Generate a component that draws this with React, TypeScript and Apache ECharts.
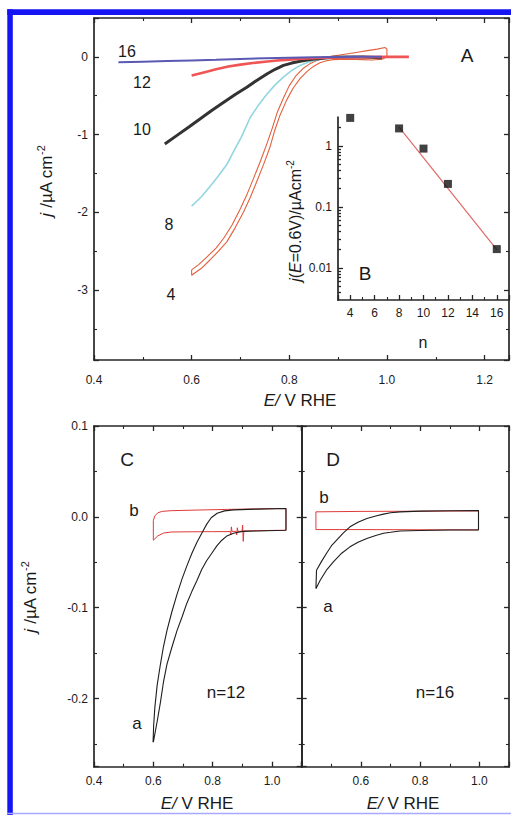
import React, { useEffect, useRef } from 'react';
import * as echarts from 'echarts';

// ---------- Panel A: j vs E for different n ----------
const curve4: number[][] = [
  [0.6, -2.74], [0.615, -2.67], [0.632, -2.57], [0.65, -2.46], [0.666, -2.33], [0.683, -2.16], [0.7, -1.95],
  [0.714, -1.76], [0.727, -1.56], [0.741, -1.34], [0.754, -1.12], [0.765, -0.92], [0.775, -0.72], [0.788, -0.53],
  [0.8, -0.37], [0.814, -0.24], [0.828, -0.15], [0.842, -0.09], [0.855, -0.05], [0.868, -0.02], [0.88, 0.0],
  [0.9, 0.02], [0.92, 0.04], [0.94, 0.06], [0.96, 0.08], [0.98, 0.1], [0.996, 0.12], [1.0, 0.1], [1.0, 0.0],
  [0.99, -0.03], [0.97, -0.04], [0.95, -0.035], [0.92, -0.03], [0.89, -0.035], [0.876, -0.05], [0.863, -0.075],
  [0.85, -0.12], [0.836, -0.19], [0.822, -0.28], [0.808, -0.4], [0.795, -0.55], [0.781, -0.75], [0.77, -0.95],
  [0.76, -1.17], [0.747, -1.39], [0.733, -1.61], [0.72, -1.81], [0.706, -2.0], [0.689, -2.2], [0.672, -2.38],
  [0.655, -2.5], [0.638, -2.61], [0.62, -2.72], [0.6, -2.81], [0.6, -2.74],
];
const curve8: number[][] = [
  [0.6, -1.92], [0.62, -1.8], [0.638, -1.665], [0.655, -1.53], [0.672, -1.385], [0.685, -1.23], [0.702, -1.03],
  [0.72, -0.78], [0.737, -0.62], [0.754, -0.48], [0.771, -0.36], [0.788, -0.26], [0.805, -0.175], [0.822, -0.11],
  [0.836, -0.075], [0.849, -0.05], [0.87, -0.025], [0.9, -0.008], [0.93, 0.0],
];
const curve10: number[][] = [
  [0.545, -1.12], [0.57, -1.01], [0.595, -0.9], [0.617, -0.8], [0.641, -0.69], [0.665, -0.587], [0.69, -0.48],
  [0.713, -0.39], [0.734, -0.3], [0.754, -0.22], [0.771, -0.16], [0.788, -0.11], [0.805, -0.08], [0.822, -0.056],
  [0.84, -0.038], [0.856, -0.026], [0.873, -0.014], [0.89, -0.006], [0.92, -0.002], [0.95, -0.003], [0.99, -0.012],
];
const curve12: number[][] = [
  [0.6, -0.24], [0.625, -0.2], [0.65, -0.16], [0.675, -0.125], [0.7, -0.1], [0.725, -0.08], [0.75, -0.062],
  [0.775, -0.047], [0.8, -0.035], [0.825, -0.025], [0.85, -0.018], [0.875, -0.012], [0.9, -0.008], [0.95, -0.003],
  [1.0, 0.0], [1.045, 0.0],
];
const curve16: number[][] = [
  [0.45, -0.07], [0.5, -0.062], [0.55, -0.054], [0.6, -0.046], [0.65, -0.038], [0.7, -0.028], [0.75, -0.018],
  [0.8, -0.01], [0.85, -0.005], [0.9, -0.002], [0.95, 0.0], [0.99, 0.0],
];

// ---------- Panel B (inset): j(E=0.6V) vs n ----------
const insetN: number[] = [4, 8, 10, 12, 16];
const insetJ: number[] = [2.9, 1.95, 0.91, 0.24, 0.0205];
const fitN: number[] = [8, 16];
const fitJ: number[] = [2.05, 0.02];

// ---------- Panel C (n=12) ----------
const cCurveB: number[][] = [
  [0.6, -0.004], [0.605, 0.001], [0.615, 0.0045], [0.63, 0.006], [0.66, 0.0068], [0.75, 0.0075], [0.85, 0.0082],
  [0.95, 0.0088], [1.047, 0.0092], [1.047, -0.0147], [0.95, -0.0152], [0.905, -0.0155], [0.903, -0.027],
  [0.901, -0.009], [0.899, -0.0158], [0.885, -0.016], [0.883, -0.012], [0.881, -0.02], [0.879, -0.016],
  [0.865, -0.016], [0.863, -0.011], [0.861, -0.02], [0.859, -0.0162], [0.8, -0.0163], [0.7, -0.0165],
  [0.66, -0.0167], [0.635, -0.0178], [0.615, -0.021], [0.6, -0.0257], [0.6, -0.004],
];
const cCurveA: number[][] = [
  [0.599, -0.248], [0.601, -0.23], [0.605, -0.21], [0.613, -0.185], [0.624, -0.162], [0.634, -0.143],
  [0.646, -0.125], [0.662, -0.105], [0.68, -0.085], [0.697, -0.068], [0.713, -0.054], [0.73, -0.04],
  [0.747, -0.028], [0.766, -0.0165], [0.78, -0.008], [0.795, -0.001], [0.815, 0.004], [0.84, 0.0066],
  [0.87, 0.0077], [0.95, 0.0085], [1.047, 0.0092], [1.047, -0.0147], [0.95, -0.0155], [0.9, -0.016],
  [0.87, -0.018], [0.848, -0.021], [0.83, -0.026], [0.814, -0.032], [0.797, -0.04], [0.78, -0.048],
  [0.763, -0.058], [0.747, -0.07], [0.73, -0.082], [0.713, -0.095], [0.697, -0.11], [0.68, -0.125],
  [0.663, -0.143], [0.646, -0.162], [0.634, -0.182], [0.624, -0.204], [0.613, -0.225], [0.6, -0.248],
];

// ---------- Panel D (n=16) ----------
const dCurveB: number[][] = [
  [0.448, 0.0055], [0.6, 0.006], [0.8, 0.0062], [0.997, 0.0065], [0.997, -0.0143], [0.8, -0.0142],
  [0.6, -0.014], [0.448, -0.014], [0.448, 0.0055],
];
const dCurveA: number[][] = [
  [0.45, -0.0588], [0.467, -0.049], [0.484, -0.04], [0.5, -0.032], [0.518, -0.0257], [0.54, -0.018],
  [0.563, -0.011], [0.59, -0.006], [0.62, -0.0018], [0.65, 0.001], [0.676, 0.003], [0.7, 0.0045],
  [0.732, 0.0055], [0.8, 0.0063], [0.9, 0.0068], [0.997, 0.007], [0.997, -0.0143], [0.9, -0.0145],
  [0.8, -0.015], [0.732, -0.0155], [0.7, -0.017], [0.676, -0.018], [0.65, -0.0205], [0.62, -0.0238],
  [0.59, -0.028], [0.563, -0.033], [0.535, -0.04], [0.507, -0.0496], [0.485, -0.058], [0.462, -0.07],
  [0.448, -0.079], [0.45, -0.0588],
];

// log-axis minor tick positions of the inset (2..9 within each decade)
const insetMinorTicks: number[] = [];
[0.001, 0.01, 0.1, 1].forEach((d) => {
  for (let k = 2; k <= 9; k++) {
    const v = +(d * k).toPrecision(3);
    if (v > 0.003 && v < 3) insetMinorTicks.push(v);
  }
});

const FONT = "'Liberation Sans', Arial, Helvetica, sans-serif";
const AX = '#262626';
const TXT = '#1a1a1a';

function ax(gridIndex: number, position: string, min: number, max: number, o: any = {}) {
  const a: any = {
    type: o.type || 'value',
    gridIndex,
    position,
    min,
    max,
    axisLine: { show: o.line !== false, onZero: false, lineStyle: { color: AX, width: 1.7 } },
    axisTick: { show: true, inside: true, length: o.tickLen || 5, lineStyle: { color: AX, width: 1.3 } },
    minorTick: { show: o.minor !== false, splitNumber: 2, length: 3, lineStyle: { color: AX, width: 1.1 } },
    splitLine: { show: false },
    axisLabel: o.label
      ? {
          show: true,
          color: TXT,
          fontSize: o.fontSize || 12,
          fontFamily: FONT,
          margin: o.margin ?? 6,
          formatter: o.formatter,
          showMinLabel: o.showMin ?? false,
          showMaxLabel: o.showMax ?? false,
        }
      : { show: false },
  };
  if (o.tickValues) a.axisTick.customValues = o.tickValues;
  if (o.interval !== undefined) a.interval = o.interval;
  if (o.splitNumber !== undefined) a.splitNumber = o.splitNumber;
  if (o.logBase !== undefined) a.logBase = o.logBase;
  return a;
}

const fix1 = (v: number) => (Math.abs(v) < 1e-9 ? 0 : v).toFixed(1);
const logFmt = (v: number) => {
  const l = Math.log10(v);
  const e = Math.round(l);
  if (Math.abs(l - e) > 1e-6) return '';
  return e >= 0 ? String(Math.pow(10, e)) : Math.pow(10, e).toFixed(-e);
};

function line(xi: number, yi: number, data: number[][], color: string, width: number, z = 2) {
  return {
    type: 'line',
    xAxisIndex: xi,
    yAxisIndex: yi,
    data,
    showSymbol: false,
    symbol: 'none',
    lineStyle: { color, width },
    silent: true,
    z,
  };
}

function txt(x: number, y: number, text: string, size: number, extra: any = {}) {
  return {
    type: 'text',
    x,
    y,
    z: 100,
    silent: true,
    style: { text, fontSize: size, fontFamily: FONT, fill: TXT, align: 'center', verticalAlign: 'middle', ...extra },
  };
}

function richTitle(x: number, y: number, text: string, size: number, rotate: boolean) {
  return {
    type: 'text',
    x,
    y,
    z: 100,
    silent: true,
    rotation: rotate ? Math.PI / 2 : 0,
    style: {
      text,
      fontSize: size,
      fontFamily: FONT,
      fill: TXT,
      align: 'center',
      verticalAlign: 'middle',
      rich: {
        i: { fontStyle: 'italic', fontSize: size, fontFamily: FONT, fill: TXT, lineHeight: size + 4 },
        n: { fontSize: size, fontFamily: FONT, fill: TXT, lineHeight: size + 4 },
        s: { fontSize: Math.round(size * 0.62), fontFamily: FONT, fill: TXT, lineHeight: Math.round(size * 0.62), verticalAlign: 'top' },
      },
    },
  };
}

const option: any = {
  animation: false,
  backgroundColor: '#ffffff',
  grid: [
    { left: 94, top: 18, width: 415, height: 342 },
    { left: 338, top: 117, width: 171, height: 183 },
    { left: 94, top: 426, width: 207.7, height: 340.7 },
    { left: 301.7, top: 426, width: 207.3, height: 340.7 },
  ],
  xAxis: [
    ax(0, 'bottom', 0.4, 1.25, { interval: 0.2, label: true, margin: 14, formatter: fix1, showMin: true }),
    ax(0, 'top', 0.4, 1.25, { interval: 0.2 }),
    ax(1, 'bottom', 3, 17, { splitNumber: 7, label: true, margin: 7, formatter: (v: number) => String(v) }),
    ax(2, 'bottom', 0.4, 1.1, { interval: 0.2, label: true, margin: 8, formatter: fix1, showMin: true }),
    ax(2, 'top', 0.4, 1.1, { interval: 0.2 }),
    ax(3, 'bottom', 0.4, 1.1, { interval: 0.2, label: true, margin: 8, formatter: fix1, showMin: false }),
    ax(3, 'top', 0.4, 1.1, { interval: 0.2 }),
  ],
  yAxis: [
    ax(0, 'left', -3.9, 0.5, { splitNumber: 5, label: true, margin: 6, formatter: (v: number) => String(Math.round(v)) }),
    ax(0, 'right', -3.9, 0.5, { splitNumber: 5 }),
    ax(1, 'left', 0.003, 3, { type: 'log', logBase: 10, minor: false, label: true, margin: 6, formatter: logFmt }),
    ax(2, 'left', -0.275, 0.1, { splitNumber: 4, label: true, margin: 6, formatter: fix1, showMax: true }),
    ax(2, 'right', -0.275, 0.1, { splitNumber: 4 }),
    ax(3, 'left', -0.275, 0.1, { splitNumber: 4 }),
    ax(3, 'right', -0.275, 0.1, { splitNumber: 4 }),
    ax(1, 'left', 0.003, 3, { type: 'log', logBase: 10, minor: false, line: false, tickLen: 3, tickValues: insetMinorTicks }),
  ],
  series: [
    line(0, 0, curve4, '#e2603c', 1.1),
    line(0, 0, curve8, '#92d6e0', 1.6),
    line(0, 0, curve10, '#333333', 3),
    line(0, 0, curve12, '#f05555', 2.6),
    line(0, 0, curve16, '#5a5ab4', 2),
    line(2, 2, fitN.map((n, i) => [n, fitJ[i]]), '#e06a6a', 1.2),
    {
      type: 'scatter',
      xAxisIndex: 2,
      yAxisIndex: 2,
      data: insetN.map((n, i) => [n, insetJ[i]]),
      symbol: 'rect',
      symbolSize: 8,
      itemStyle: { color: '#111111' },
      silent: true,
      z: 5,
    },
    line(3, 3, cCurveB, '#e03a3a', 1),
    line(3, 3, cCurveA, '#1e1e1e', 1.1),
    line(5, 5, dCurveB, '#e03a3a', 1),
    line(5, 5, dCurveA, '#1e1e1e', 1.1),
  ],
  graphic: [
    { type: 'rect', silent: true, z: 200, shape: { x: 7.3, y: 9.3, width: 5.5, height: 806 }, style: { fill: '#1414f5' } },
    { type: 'rect', silent: true, z: 200, shape: { x: 7.3, y: 9.3, width: 504, height: 5.7 }, style: { fill: '#1414f5' } },
    { type: 'rect', silent: true, z: 200, shape: { x: 7.3, y: 812.8, width: 504, height: 1.4 }, style: { fill: '#a8a8ff' } },
    // panel A
    richTitle(300, 400, '{i|E/}{n| V RHE}', 17, false),
    richTitle(46, 181, '{i|j}{n| /µA cm}{s|-2}', 17, true),
    txt(467, 55, 'A', 19),
    txt(127, 51, '16', 16),
    txt(142, 82, '12', 16),
    txt(142, 129, '10', 16),
    txt(169, 224, '8', 16),
    txt(171, 294, '4', 16),
    // inset B
    richTitle(295, 221, '{i|j}{n|(}{i|E}{n|=0.6V)/µAcm}{s|-2}', 16, true),
    txt(423, 342, 'n', 16),
    txt(365, 273, 'B', 19),
    // panel C
    richTitle(197, 803, '{i|E/}{n| V RHE}', 17, false),
    richTitle(30, 597, '{i|j}{n| /µA cm}{s|-2}', 17, true),
    txt(127, 459, 'C', 19),
    txt(134, 510, 'b', 17),
    txt(137, 723, 'a', 17),
    txt(226, 692, 'n=12', 17),
    // panel D
    richTitle(403, 803, '{i|E/}{n| V RHE}', 17, false),
    txt(333, 459, 'D', 19),
    txt(324, 497, 'b', 17),
    txt(328, 606, 'a', 17),
    txt(435, 692, 'n=16', 17),
  ],
};

export default function App() {
  const ref = useRef<HTMLDivElement>(null);
  useEffect(() => {
    if (!ref.current) return;
    const chart = echarts.init(ref.current, null, { renderer: 'svg', width: 511, height: 815 });
    chart.setOption(option);
    return () => {
      chart.dispose();
    };
  }, []);
  return (
    <div
      ref={ref}
      style={{ position: 'fixed', left: 0, top: 0, width: 511, height: 815, background: '#ffffff' }}
    />
  );
}
